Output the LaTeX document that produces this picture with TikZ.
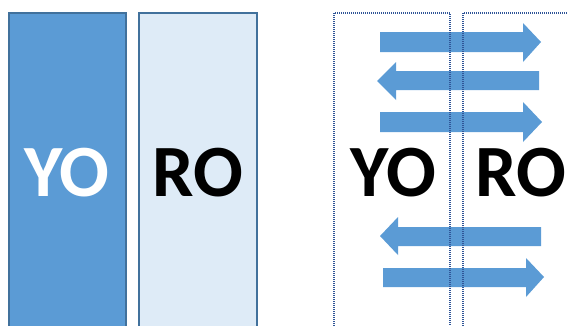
\documentclass[tikz,border=0pt]{standalone}
\usepackage{fontspec}
\setmainfont{Carlito}
\begin{document}
\begin{tikzpicture}[x=1bp,y=-1bp,
  darkbox/.style={fill=boxdark,draw=boxedge,line width=1.3bp},
  lightbox/.style={fill=boxlight,draw=boxedge,line width=1.3bp},
  dotbox/.style={draw=dotcol,line width=1.3bp,dash pattern=on 1bp off 1bp},
  arrowfill/.style={fill=boxdark},
  bigtext/.style={font=\fontsize{74}{74}\selectfont\bfseries,inner sep=0pt,anchor=base}]
\definecolor{boxdark}{HTML}{5B9BD5}
\definecolor{boxlight}{HTML}{DEEBF7}
\definecolor{boxedge}{HTML}{41719C}
\definecolor{dotcol}{HTML}{2F5597}
\useasboundingbox (0,0) rectangle (568,325);
\clip (0,0) rectangle (568,325);
% left boxes
\draw[darkbox] (9,13) rectangle (126,340);
\draw[lightbox] (139,13) rectangle (257,340);
\node[bigtext,text=white] (yo1) at (67,196) {YO};
\node[bigtext,text=black] (ro1) at (198,196) {RO};
% arrows
\fill[arrowfill] (380,32) -- (523,32) -- (523,23) -- (541,42) -- (523,62) -- (523,52) -- (380,52) -- cycle;
\fill[arrowfill] (539,71) -- (396,71) -- (396,62) -- (377,81) -- (396,100) -- (396,90) -- (539,90) -- cycle;
\fill[arrowfill] (380,112) -- (523,112) -- (523,102) -- (542,122) -- (523,142) -- (523,132) -- (380,132) -- cycle;
\fill[arrowfill] (541,227) -- (398,227) -- (398,217) -- (380,236) -- (398,255) -- (398,246) -- (541,246) -- cycle;
\fill[arrowfill] (383,268) -- (526,268) -- (526,258) -- (544,277) -- (526,297) -- (526,287) -- (383,287) -- cycle;
% right text
\node[bigtext,text=black] (yo2) at (393.5,196) {YO};
\node[bigtext,text=black] (ro2) at (521,196) {RO};
% dotted boxes
\draw[dotbox] (334,340) -- (334,13) -- (450,13) -- (450,340);
\draw[dotbox] (463,340) -- (463,13) -- (580,13);
\end{tikzpicture}
\end{document}
